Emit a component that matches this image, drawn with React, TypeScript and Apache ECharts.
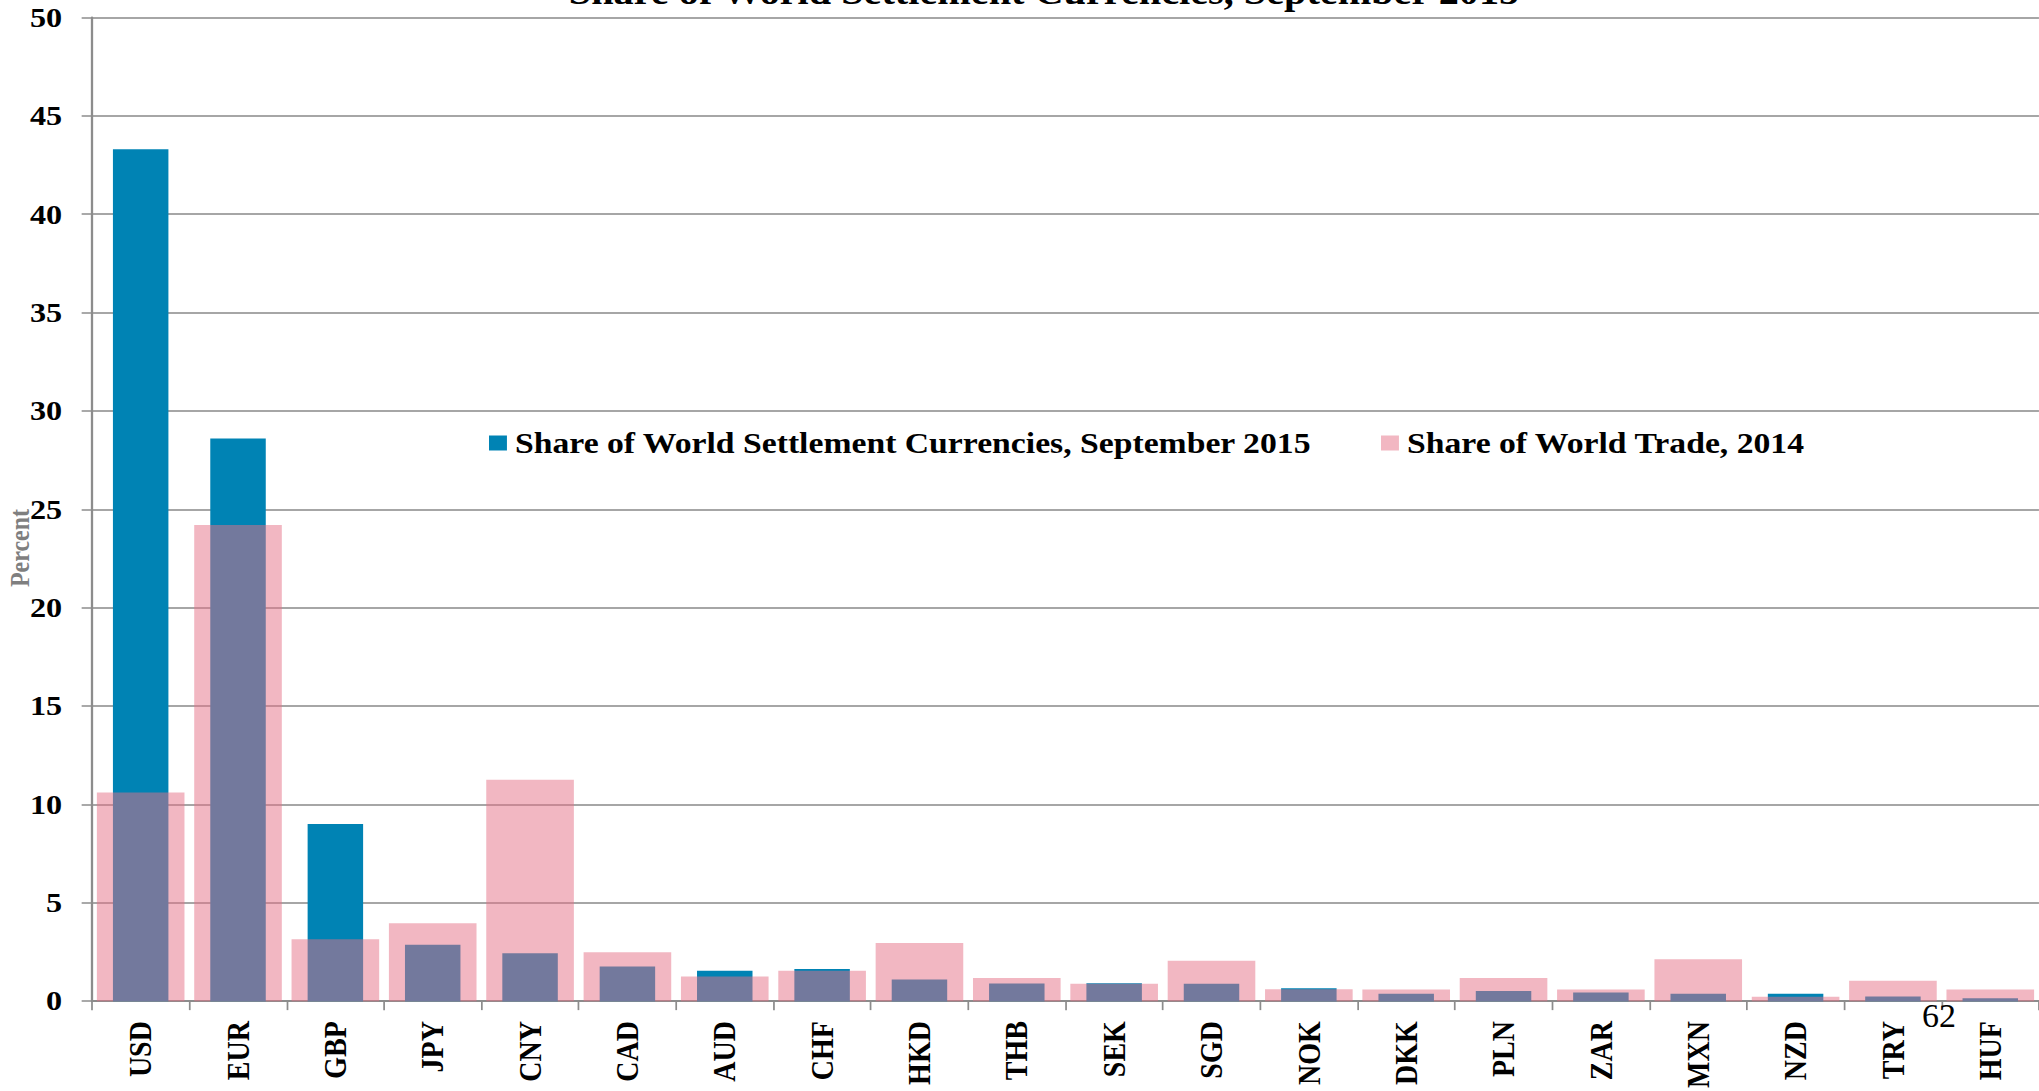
import React, { useEffect, useRef } from "react";
import * as echarts from "echarts";

const categories = ["USD", "EUR", "GBP", "JPY", "CNY", "CAD", "AUD", "CHF", "HKD", "THB", "SEK", "SGD", "NOK", "DKK", "PLN", "ZAR", "MXN", "NZD", "TRY", "HUF"];
const settlementShare = [43.3, 28.6, 9.0, 2.86, 2.44, 1.76, 1.54, 1.63, 1.1, 0.9, 0.91, 0.88, 0.66, 0.37, 0.51, 0.44, 0.37, 0.37, 0.24, 0.15];
const tradeShare = [10.6, 24.2, 3.15, 3.96, 11.25, 2.49, 1.25, 1.54, 2.95, 1.17, 0.88, 2.05, 0.6, 0.59, 1.17, 0.59, 2.13, 0.22, 1.03, 0.59];
const yTicks = { min: 0, max: 50, interval: 5 };

const seriesNames = ["Share of World Settlement Currencies, September 2015", "Share of World Trade, 2014"];
const titleText = "Share of World Settlement Currencies, September 2015";
const yAxisTitle = "Percent";
const pageNumber = "62";

const SERIF = "'Liberation Serif', 'Times New Roman', serif";
// The original chart picture is stretched horizontally on its slide.
const STRETCH = 1.15;
const PAGE_W = 2039;
const PAGE_H = 1091;

export default function App() {
  const ref = useRef<HTMLDivElement>(null);
  useEffect(() => {
    if (!ref.current) return;
    const chart = echarts.init(ref.current, null, { renderer: "svg" });
    const sx = (v: number) => v / STRETCH;
    const legendText = { fontFamily: SERIF, fontWeight: "bold", fontSize: 29.3, color: "#000", lineHeight: 30, padding: [0, 0, 0, 2] };
    chart.setOption({
      animation: false,
      backgroundColor: "#ffffff",
      grid: { left: sx(92), right: 0, top: 17.5, bottom: 89 },
      legend: [
        {
          data: [seriesNames[0]],
          left: sx(489),
          top: 428,
          padding: 0,
          icon: "rect",
          itemWidth: 15.6,
          itemHeight: 15,
          textStyle: legendText,
        },
        {
          data: [seriesNames[1]],
          left: sx(1381),
          top: 428,
          padding: 0,
          icon: "rect",
          itemWidth: 15.6,
          itemHeight: 15,
          textStyle: legendText,
        },
      ],
      xAxis: [
        {
          type: "category",
          data: categories,
          axisLine: { show: true, lineStyle: { color: "#8c8c8c", width: 2 } },
          axisTick: { show: true, length: 9, lineStyle: { color: "#8c8c8c", width: 1.5 } },
          axisLabel: {
            rotate: 90,
            margin: 20,
            fontFamily: SERIF,
            fontWeight: "bold",
            fontSize: 28,
            color: "#000",
          },
        },
        {
          type: "category",
          data: categories,
          show: false,
        },
      ],
      yAxis: {
        type: "value",
        min: yTicks.min,
        max: yTicks.max,
        interval: yTicks.interval,
        axisLine: { show: true, lineStyle: { color: "#8c8c8c", width: 2 } },
        axisTick: { show: true, length: 9, lineStyle: { color: "#8c8c8c", width: 1.5 } },
        splitLine: { show: true, lineStyle: { color: "#a6a6a6", width: 2 } },
        axisLabel: {
          margin: 26,
          fontFamily: SERIF,
          fontWeight: "bold",
          fontSize: 28,
          color: "#000",
        },
      },
      series: [
        {
          name: seriesNames[0],
          type: "bar",
          xAxisIndex: 0,
          data: settlementShare,
          barWidth: "57%",
          itemStyle: { color: "#0083B4" },
        },
        {
          name: seriesNames[1],
          type: "bar",
          xAxisIndex: 1,
          data: tradeShare,
          barWidth: "90%",
          itemStyle: { color: "rgba(230,112,133,0.5)" },
        },
      ],
      graphic: [
        {
          type: "text",
          x: sx(1044),
          y: -8.5,
          style: {
            text: titleText,
            fontFamily: SERIF,
            fontWeight: "bold",
            fontSize: 35,
            fill: "#000",
            textAlign: "center",
            textVerticalAlign: "middle",
          },
        },
        {
          type: "text",
          x: sx(20),
          y: 548,
          rotation: Math.PI / 2,
          style: {
            text: yAxisTitle,
            fontFamily: SERIF,
            fontWeight: "bold",
            fontSize: 24,
            fill: "#7f7f7f",
            textAlign: "center",
            textVerticalAlign: "middle",
          },
        },
        {
          type: "text",
          x: sx(1939),
          y: 1016,
          z: 100,
          scaleX: 1 / STRETCH,
          style: {
            text: pageNumber,
            fontFamily: SERIF,
            fontSize: 34,
            fill: "#000",
            textAlign: "center",
            textVerticalAlign: "middle",
          },
        },
      ],
    });
    return () => chart.dispose();
  }, []);
  return (
    <div style={{ position: "fixed", left: 0, top: 0, width: PAGE_W, height: PAGE_H, overflow: "hidden", background: "#fff" }}>
      <div
        ref={ref}
        style={{
          width: PAGE_W / STRETCH,
          height: PAGE_H,
          transform: `scaleX(${STRETCH})`,
          transformOrigin: "0 0",
        }}
      />
    </div>
  );
}
